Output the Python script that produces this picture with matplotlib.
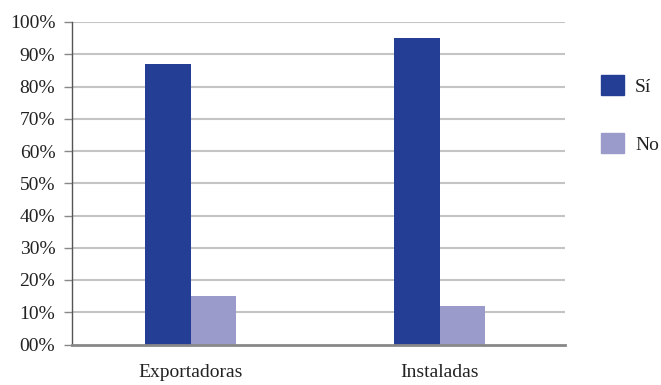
import matplotlib
matplotlib.use("Agg")
import matplotlib.pyplot as plt
import numpy as np
from matplotlib.patches import Patch

categories = ["Exportadoras", "Instaladas"]
si_values = [0.87, 0.95]
no_values = [0.15, 0.12]
series_labels = ["Sí", "No"]
ytick_values = [0, 0.1, 0.2, 0.3, 0.4, 0.5, 0.6, 0.7, 0.8, 0.9, 1.0]
ytick_labels = ["00%", "10%", "20%", "30%", "40%", "50%", "60%", "70%", "80%", "90%", "100%"]

c_si = "#233E94"
c_no = "#9B9BCB"

plt.rcParams['font.family'] = ['Liberation Serif', 'DejaVu Serif']
FS = 14

fig = plt.figure(figsize=(6.61, 3.85), dpi=100)
W, H = 661, 385
ax = fig.add_axes([72 / W, 1 - 344.5 / H, (565 - 72) / W, (344.5 - 22) / H])

x = np.arange(len(categories))
bw = 0.183
ax.bar(x - bw / 2, si_values, width=bw, color=c_si, zorder=3)
ax.bar(x + bw / 2, no_values, width=bw, color=c_no, zorder=3)

ax.set_xlim(-0.476, 1.504)
ax.set_ylim(0, 1.0)
ax.set_yticks(ytick_values)
ax.set_yticklabels(ytick_labels)
ax.set_xticks(x)
ax.set_xticklabels(categories)

for y in ytick_values[1:]:
    ax.axhline(y, color="#c4c4c4", lw=1.5, zorder=1)

for s in ["top", "right"]:
    ax.spines[s].set_visible(False)
ax.spines["left"].set_color("#555555")
ax.spines["left"].set_linewidth(1.0)
ax.spines["bottom"].set_color("#888888")
ax.spines["bottom"].set_linewidth(2.0)
ax.spines["bottom"].set_zorder(4)

ax.tick_params(axis="y", length=6, color="#888888", width=1, labelsize=FS, pad=6, labelcolor="#222222")
ax.tick_params(axis="x", length=0, labelsize=FS, pad=14, labelcolor="#222222")

handles = [Patch(color=c_si, label=series_labels[0]), Patch(color=c_no, label=series_labels[1])]
fig.legend(handles=handles, loc="upper left", bbox_to_anchor=(601 / W, 1 - 75 / H),
           frameon=False, fontsize=FS, handlelength=1.2, handleheight=1.2,
           labelspacing=1.95, handletextpad=0.55, labelcolor="#222222",
           borderaxespad=0, borderpad=0)

fig.savefig("out.png", dpi=100)
